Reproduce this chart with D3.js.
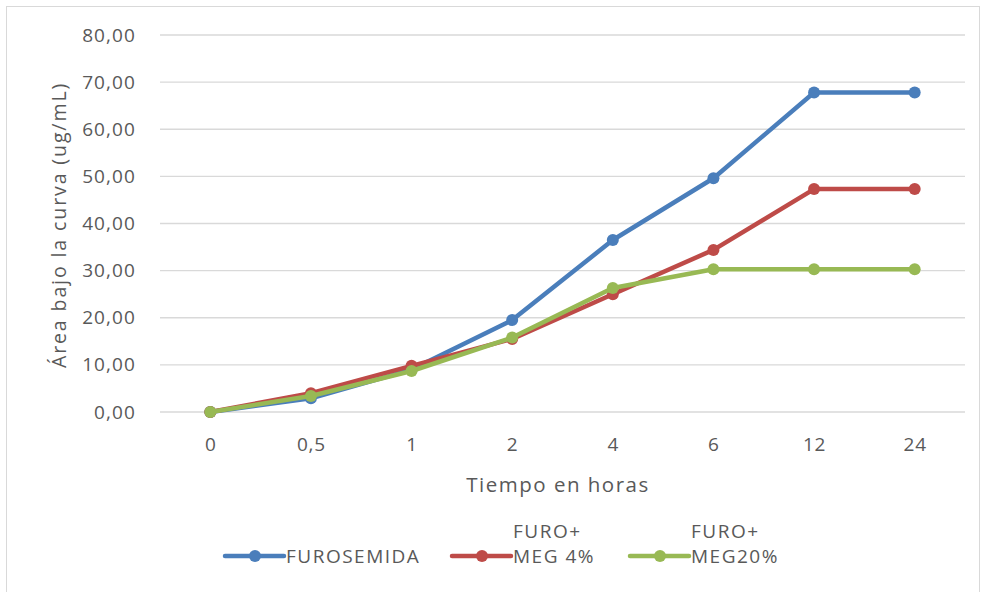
<!DOCTYPE html>
<html><head><meta charset="utf-8">
<script src="https://cdn.jsdelivr.net/npm/d3@7"></script>
<style>body{margin:0;background:#fff}svg{display:block}</style>
</head><body>
<script>
const categories = ["0","0,5","1","2","4","6","12","24"];
const furosemida = [0, 2.9, 9.0, 19.5, 36.5, 49.6, 67.8, 67.8];
const furoMeg4 = [0, 4.0, 9.8, 15.5, 25.0, 34.4, 47.3, 47.3];
const furoMeg20 = [0, 3.4, 8.7, 15.8, 26.3, 30.3, 30.3, 30.3];
const yTicks = [0,10,20,30,40,50,60,70,80];
const seriesNames = [["FUROSEMIDA"],["FURO+","MEG 4%"],["FURO+","MEG20%"]];
const colors = ["#4a7ebb","#be4b48","#98b954"];

(function(){
const W=981,H=592;
const svg=d3.select("body").append("svg").attr("width",W).attr("height",H);
svg.append("rect").attr("x",6.5).attr("y",6.5).attr("width",W-8).attr("height",H+5)
  .attr("fill","#fff").attr("stroke","#d9d9d9");
const pL=160,pR=965,pT=35,pB=412;
const x=d3.scalePoint().domain(categories).range([pL,pR]).padding(0.5);
const y=d3.scaleLinear().domain([0,80]).range([pB,pT]);
const font="'Open Sans', sans-serif", tc="#595959";

svg.append("g").selectAll("line").data(yTicks).join("line")
  .attr("x1",pL).attr("x2",pR).attr("y1",d=>y(d)).attr("y2",d=>y(d))
  .attr("stroke","#d9d9d9").attr("stroke-width",1.3);

const yAxis=svg.append("g").attr("transform",`translate(${pL},0)`)
  .call(d3.axisLeft(y).tickValues(yTicks).tickSize(0).tickPadding(24).tickFormat(d=>d3.format(".2f")(d).replace(".",",")));
yAxis.select(".domain").remove();
yAxis.selectAll("text").attr("font-family",font).attr("font-size",19).attr("letter-spacing",1.1).attr("fill",tc);

const xAxis=svg.append("g").attr("transform",`translate(0,${pB})`)
  .call(d3.axisBottom(x).tickSize(0).tickPadding(26));
xAxis.select(".domain").remove();
xAxis.selectAll("text").attr("font-family",font).attr("font-size",19).attr("letter-spacing",0.8).attr("fill",tc);

svg.append("text").attr("transform","translate(66,225) rotate(-90)").attr("text-anchor","middle")
  .attr("font-family",font).attr("font-size",19.5).attr("letter-spacing",1.9).attr("fill",tc).text("Área bajo la curva (ug/mL)");
svg.append("text").attr("x",558).attr("y",492).attr("text-anchor","middle")
  .attr("font-family",font).attr("font-size",20.5).attr("letter-spacing",1.5).attr("fill",tc).text("Tiempo en horas");

const allSeries=[furosemida,furoMeg4,furoMeg20];
const line=d3.line().x((d,i)=>x(categories[i])).y(d=>y(d));
allSeries.forEach((s,k)=>{
  const g=svg.append("g");
  g.append("path").datum(s).attr("d",line).attr("fill","none").attr("stroke",colors[k])
    .attr("stroke-width",4.5).attr("stroke-linejoin","round");
  g.selectAll("circle").data(s).join("circle").attr("cx",(d,i)=>x(categories[i])).attr("cy",d=>y(d))
    .attr("r",6).attr("fill",colors[k]);
});

const legX=[225,452,630];
seriesNames.forEach((nm,k)=>{
  const g=svg.append("g").attr("transform",`translate(${legX[k]},556)`);
  g.append("line").attr("x1",0).attr("x2",59).attr("stroke",colors[k]).attr("stroke-width",4.5).attr("stroke-linecap","round");
  g.append("circle").attr("cx",30).attr("r",6).attr("fill",colors[k]);
  const t=g.append("text").attr("font-family",font).attr("font-size",19).attr("letter-spacing",1.5).attr("fill",tc);
  if(nm.length===1){ t.append("tspan").attr("x",61).attr("y",7).text(nm[0]); }
  else { t.append("tspan").attr("x",61).attr("y",-18).text(nm[0]); t.append("tspan").attr("x",61).attr("y",7).text(nm[1]); }
});
})();
</script>
</body></html>
